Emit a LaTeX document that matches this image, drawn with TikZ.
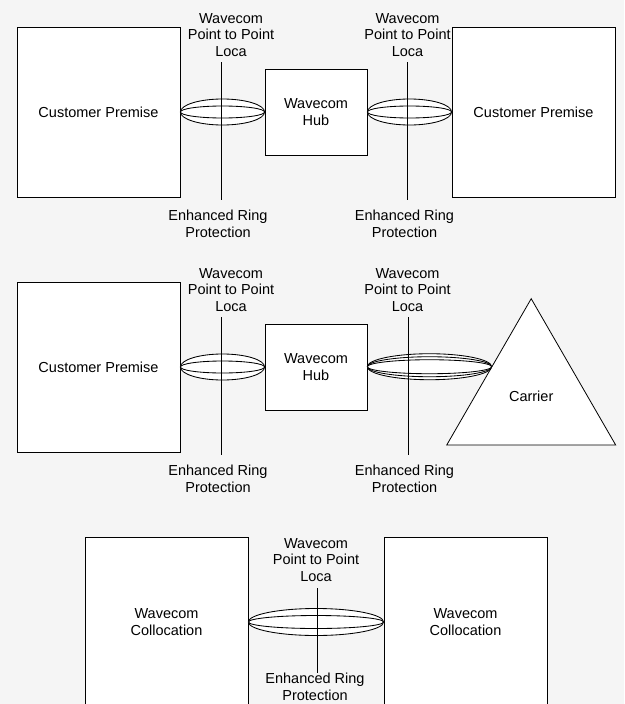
\documentclass[tikz,border=0pt]{standalone}
\usepackage{fontspec}
\setmainfont{Liberation Sans}
\usetikzlibrary{calc,shapes.geometric}
\definecolor{bggray}{HTML}{F5F5F5}
\newcommand\ringlink[3]{%
  \foreach \ry in {#3} {%
    \draw[ring] let \p1=(#1), \p2=(#2) in
      ($(\p1)!0.5!(\p2)$) ellipse ({(\x2-\x1)/2} and \ry pt);}}
\begin{document}
\begin{tikzpicture}[x=1pt,y=-1pt,
  every node/.style={font=\fontsize{14.5}{16.7}\selectfont, align=center, inner sep=0pt},
  premise/.style={draw, fill=white, line width=0.8pt, minimum width=163pt, minimum height=170pt},
  hubbox/.style={draw, fill=white, line width=0.8pt, minimum width=102pt, minimum height=86pt},
  ring/.style={draw, fill=white, line width=0.85pt},
  mast/.style={line width=0.8pt},
  lbl/.style={}]
\useasboundingbox (0,0) rectangle (624,704);
\clip (0,0) rectangle (624,704);
\fill[bggray] (0,0) rectangle (624,704);

% Row 1
\node[premise] (cpa) at (98.5,112) {Customer Premise};
\node[hubbox] (huba) at (316,112) {Wavecom\\Hub};
\node[premise] (cpb) at (533.5,112) {Customer Premise};
\ringlink{cpa.east}{huba.west}{13,6}
\ringlink{huba.east}{cpb.west}{13,6}
\coordinate (m1t) at (221,62); \coordinate (m1b) at (221,200);
\coordinate (m2t) at (407,62); \coordinate (m2b) at (407,200);
\draw[mast] (m1t) -- (m1b);
\draw[mast] (m2t) -- (m2b);
\node[lbl] (t1) at (231,35) {Wavecom\\Point to Point\\Loca};
\node[lbl] (t2) at (407.5,35) {Wavecom\\Point to Point\\Loca};
\node[lbl] (b1) at (218,224) {Enhanced Ring\\Protection};
\node[lbl] (b2) at (404.5,224) {Enhanced Ring\\Protection};

% Row 2
\node[premise] (cpc) at (98.5,367) {Customer Premise};
\node[hubbox] (hubb) at (316,367) {Wavecom\\Hub};
\node[regular polygon, regular polygon sides=3, draw, fill=white, line width=0.8pt,
      minimum size=195pt] (car) at (531.2,396.2) {Carrier};
\coordinate (cedge) at ($(car.corner 1)!0.465!(car.corner 2)$);
\ringlink{cpc.east}{hubb.west}{13,6}
\ringlink{hubb.east}{cedge}{13,10,7}
\coordinate (m3t) at (221,317); \coordinate (m3b) at (221,455);
\coordinate (m4t) at (408,317); \coordinate (m4b) at (408,455);
\draw[mast] (m3t) -- (m3b);
\draw[mast] (m4t) -- (m4b);
\node[lbl] (t3) at (231,290) {Wavecom\\Point to Point\\Loca};
\node[lbl] (t4) at (407.5,290) {Wavecom\\Point to Point\\Loca};
\node[lbl] (b3) at (218,479) {Enhanced Ring\\Protection};
\node[lbl] (b4) at (404.5,479) {Enhanced Ring\\Protection};

% Row 3
\node[premise] (cla) at (166.5,622) {Wavecom\\Collocation};
\node[premise] (clb) at (465.5,622) {Wavecom\\Collocation};
\ringlink{cla.east}{clb.west}{13.5,6.5}
\coordinate (m5t) at (317.5,588); \coordinate (m5b) at (317.5,673);
\draw[mast] (m5t) -- (m5b);
\node[lbl] (t5) at (316,560) {Wavecom\\Point to Point\\Loca};
\node[lbl] (b5) at (315,687) {Enhanced Ring\\Protection};
\end{tikzpicture}
\end{document}
